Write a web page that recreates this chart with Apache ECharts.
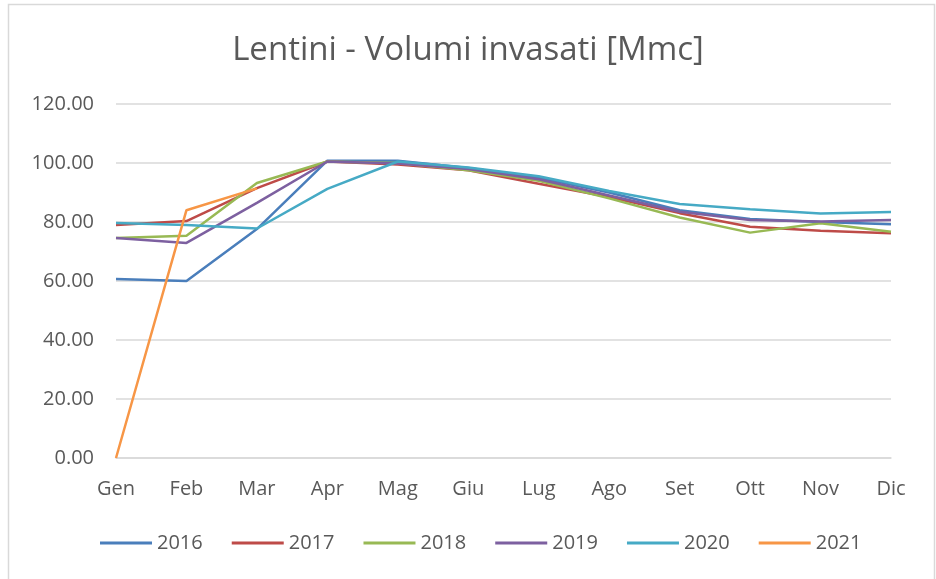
<!DOCTYPE html>
<html>
<head>
<meta charset="utf-8">
<script src="https://cdn.jsdelivr.net/npm/echarts@6/dist/echarts.min.js"></script>
<style>
  html, body { margin: 0; padding: 0; background: #fff; }
  #chart { width: 936px; height: 579px; }
</style>
</head>
<body>
<div id="chart"></div>
<script>
const months = ["Gen", "Feb", "Mar", "Apr", "Mag", "Giu", "Lug", "Ago", "Set", "Ott", "Nov", "Dic"];

const v2016 = [60.7, 60.0, 77.6, 100.8, 100.8, 98.3, 95.0, 90.0, 84.0, 81.0, 80.0, 79.2];
const v2017 = [79.0, 80.3, 91.5, 100.5, 99.5, 97.5, 93.0, 88.5, 83.0, 78.4, 77.0, 76.2];
const v2018 = [74.6, 75.3, 93.2, 100.5, 100.0, 97.5, 94.0, 88.0, 81.5, 76.4, 79.6, 76.7];
const v2019 = [74.6, 72.9, 86.5, 100.5, 99.8, 98.0, 94.5, 89.0, 83.5, 80.7, 80.2, 80.7];
const v2020 = [79.7, 79.0, 77.8, 91.2, 100.5, 98.5, 95.5, 90.5, 86.1, 84.3, 82.9, 83.4];
const v2021 = [0.0, 84.0, 91.4, null, null, null, null, null, null, null, null, null];

const seriesNames = ["2016", "2017", "2018", "2019", "2020", "2021"];
const seriesValues = [v2016, v2017, v2018, v2019, v2020, v2021];
const colors = ["#4a7ebb", "#be4b48", "#98b954", "#7d60a0", "#46aac5", "#f79646"];

const chart = echarts.init(document.getElementById("chart"));
const option = {
  color: colors,
  animation: false,
  title: {
    text: "Lentini - Volumi invasati [Mmc]",
    left: "center",
    top: 29,
    textStyle: {
      color: "#595959",
      fontSize: 33,
      fontWeight: "normal",
      fontFamily: "Open Sans"
    }
  },
  graphic: [
    {
      type: "rect",
      shape: { x: 8.5, y: 4.5, width: 926, height: 580 },
      style: { fill: "none", stroke: "#d9d9d9", lineWidth: 1.5 }
    }
  ],
  grid: { left: 116, right: 45, top: 104, bottom: 121 },
  legend: {
    bottom: 21,
    left: 95,
    itemWidth: 52,
    itemHeight: 3,
    itemGap: 29,
    icon: "rect",
    textStyle: { color: "#595959", fontSize: 20, fontFamily: "Open Sans" },
    data: seriesNames
  },
  xAxis: {
    type: "category",
    boundaryGap: false,
    data: months,
    axisLine: { lineStyle: { color: "#d9d9d9", width: 1.5 } },
    axisTick: { show: false },
    axisLabel: { color: "#595959", fontSize: 20, margin: 21, fontFamily: "Open Sans" }
  },
  yAxis: {
    type: "value",
    min: 0,
    max: 120,
    interval: 20,
    axisLine: { show: false },
    axisTick: { show: false },
    splitLine: { lineStyle: { color: "#d9d9d9", width: 1.5 } },
    axisLabel: {
      color: "#595959",
      fontSize: 20,
      margin: 22,
      fontFamily: "Open Sans",
      formatter: v => v.toFixed(2)
    }
  },
  series: seriesNames.map((name, i) => ({
    name: name,
    type: "line",
    data: seriesValues[i],
    showSymbol: false,
    symbol: "none",
    lineStyle: { width: 2.5 }
  }))
};
chart.setOption(option);
</script>
</body>
</html>
